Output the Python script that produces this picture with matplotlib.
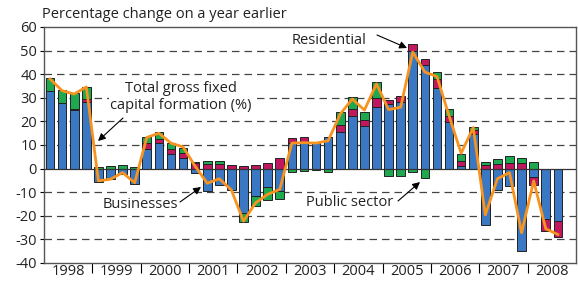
import matplotlib
matplotlib.use("Agg")
import matplotlib.pyplot as plt
import numpy as np

plt.rcParams['font.family'] = ['Open Sans', 'DejaVu Sans']

years = ['1998', '1999', '2000', '2001', '2002', '2003', '2004', '2005', '2006', '2007', '2008']

businesses = [33, 27.8, 24.8, 28.4,
              -5.5, -4.3, -2.4, -6.5,
              8.5, 10.8, 6.1, 4.3,
              -1.8, -9.5, -7.1, -9.2,
              -19, -11.6, -7.8, -9.6,
              10.8, 11, 10.8, 13.2,
              15.6, 22.1, 17.9, 26,
              27.4, 28.4, 50, 44,
              34, 19.6, 1, 14.6,
              -23.8, -8.9, -7.2, -34.8,
              -3.5, -21.4, -22]

residential = [0, 0, 0.4, 1,
               0, 0, 0, 0,
               2.5, 1.7, 2.1, 2.1,
               2.4, 2.1, 2.0, 1.4,
               1.0, 1.4, 2.4, 4.5,
               2.0, 2.2, 0, 0,
               2.8, 3.1, 2.7, 3.8,
               1.8, 2.3, 2.8, 2.5,
               4.0, 2.8, 2.4, 1.7,
               1.4, 2.1, 2.4, 2.4,
               -3.3, -5.2, -6.8]

public = [5.3, 5.5, 6.8, 5.2,
          0.5, 1.1, 1.5, 0.8,
          2.6, 2.8, 2.6, 2.5,
          0.5, 1.0, 1.4, 0,
          -3.8, -4.3, -5.4, -3.3,
          -1.6, -1.1, -0.5, -1.3,
          5.4, 5.0, 3.2, 6.8,
          -3.0, -3.0, -1.3, -3.8,
          3.0, 2.7, 2.6, 1.4,
          1.3, 2.0, 2.8, 2.1,
          2.7, 0, 0]

total = [38, 33, 31.6, 34.6,
         -5.2, -4.5, -1.7, -6,
         13.2, 15, 10.8, 9.2,
         1, -6.2, -4.3, -9.1,
         -22.3, -14.5, -10.9, -8.8,
         10.8, 11, 10.8, 11.8,
         23.1, 29.5, 24.8, 35.9,
         25, 26, 49.4, 40.9,
         39, 22.4, 6.5, 17.4,
         -19.6, -4.3, -1.7, -27.2,
         -5.2, -25.5, -27.9]

BLUE = '#3b78c3'
RED = '#c0185e'
GREEN = '#1fa84f'
ORANGE = '#f7931e'

fig = plt.figure(figsize=(5.78, 2.84), dpi=100)
ax = fig.add_axes([44/578, 1-263/284, 532/578, 236/284])

n = len(businesses)
x = np.arange(n) + 0.5
pos_base = np.zeros(n)
neg_base = np.zeros(n)
for vals, col in [(businesses, BLUE), (residential, RED), (public, GREEN)]:
    v = np.array(vals, dtype=float)
    bottoms = np.where(v >= 0, pos_base, neg_base)
    ax.bar(x, v, bottom=bottoms, width=0.72, color=col, edgecolor='#222222',
           linewidth=0.7, zorder=3)
    pos_base = pos_base + np.where(v >= 0, v, 0)
    neg_base = neg_base + np.where(v < 0, v, 0)

ax.plot(x, total, color=ORANGE, lw=2.0, zorder=5, solid_joinstyle='round')

ax.set_xlim(0, 44)
ax.set_ylim(-40, 60)
for g in [-30, -20, -10, 10, 20, 30, 40, 50]:
    ax.axhline(g, color='#444444', lw=0.9, ls=(0, (6, 4)), zorder=1)
ax.axhline(0, color='#333333', lw=0.9, zorder=4)

ax.set_yticks(range(-40, 61, 10))
ax.set_yticklabels([str(v) for v in range(-40, 61, 10)], fontsize=10.5, color='#222222')
ax.tick_params(axis='y', length=3, width=0.8, direction='out', pad=2)

ax.set_xticks(range(4, 44, 4))
ax.set_xticklabels([])
ax.set_xticks(np.arange(2, 44, 4), minor=True)
ax.set_xticklabels(years, minor=True, fontsize=10.5, color='#222222')
ax.tick_params(axis='x', which='major', length=7, width=0.8, direction='out')
ax.tick_params(axis='x', which='minor', length=0, pad=1)

for s in ax.spines.values():
    s.set_color('#555555')
    s.set_linewidth(1.0)

fig.text(42/578, 1-15/284, 'Percentage change on a year earlier', fontsize=10.5,
         color='#222222', va='center', ha='left')

def px(xp, yp):
    return (xp/578, 1-yp/284)

bbox = dict(facecolor='white', edgecolor='none', pad=0.5)
arrow = dict(arrowstyle='-|>', color='black', lw=0.8, mutation_scale=11,
             shrinkA=0, shrinkB=0)

fig.text(*px(181, 97), 'Total gross fixed\ncapital formation (%)', fontsize=10.5,
         ha='center', va='center', color='#222222', linespacing=1.1, zorder=6,
         bbox=dict(facecolor='white', edgecolor='none', pad=1.0))
ax.annotate('', xy=px(98, 141), xytext=px(123, 118), xycoords='figure fraction',
            textcoords='figure fraction', arrowprops=arrow, zorder=6)

fig.text(*px(140, 204), 'Businesses', fontsize=10.5, ha='center', va='center',
         color='#222222', bbox=bbox, zorder=6)
ax.annotate('', xy=px(201, 187), xytext=px(180, 202), xycoords='figure fraction',
            textcoords='figure fraction', arrowprops=arrow, zorder=6)

fig.text(*px(329, 40), 'Residential', fontsize=10.5, ha='center', va='center',
         color='#222222', bbox=bbox, zorder=6)
ax.annotate('', xy=px(407, 48), xytext=px(377, 35), xycoords='figure fraction',
            textcoords='figure fraction', arrowprops=arrow, zorder=6)

fig.text(*px(350, 203), 'Public sector', fontsize=10.5, ha='center', va='center',
         color='#222222', bbox=bbox, zorder=6)
ax.annotate('', xy=px(420, 182), xytext=px(398, 201), xycoords='figure fraction',
            textcoords='figure fraction', arrowprops=arrow, zorder=6)

fig.savefig('out.png', dpi=100)
